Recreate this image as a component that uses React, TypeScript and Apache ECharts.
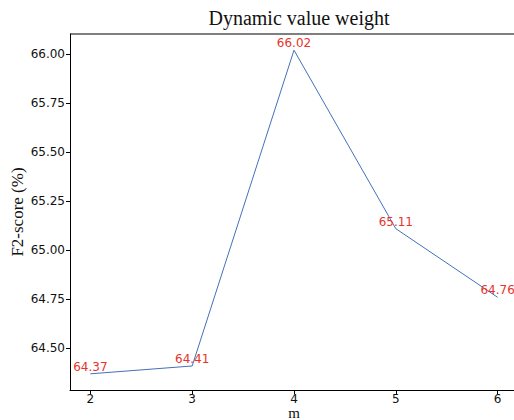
import React, { useEffect, useRef } from "react";
import * as echarts from "echarts";

const mValues = [2, 3, 4, 5, 6];
const f2Scores = [64.37, 64.41, 66.02, 65.11, 64.76];
const xTicks = [2, 3, 4, 5, 6];
const yTicks = [64.5, 64.75, 65.0, 65.25, 65.5, 65.75, 66.0];

export default function App() {
  const ref = useRef<HTMLDivElement>(null);
  useEffect(() => {
    if (!ref.current) return;
    const chart = echarts.init(ref.current, undefined, { renderer: "svg" });
    const sans = "DejaVu Sans";
    const serif = "Liberation Serif";
    chart.setOption({
      animation: false,
      backgroundColor: "#ffffff",
      title: {
        text: "Dynamic value weight",
        left: 294,
        textAlign: "center",
        top: 3,
        textStyle: { fontFamily: serif, fontSize: 20, fontWeight: "normal", color: "#111" },
      },
      grid: {
        left: 70,
        top: 34,
        width: 448,
        height: 356,
        containLabel: false,
        outerBoundsMode: "none",
      },
      xAxis: {
        type: "value",
        min: 1.8,
        max: 6.2,
        name: "m",
        nameLocation: "middle",
        nameGap: 17,
        nameMoveOverlap: false,
        nameTextStyle: { fontFamily: serif, fontSize: 15, color: "#111", lineHeight: 12 },
        axisLine: { show: true, lineStyle: { color: "#000", width: 1 } },
        axisTick: { show: true, customValues: xTicks, length: 4, lineStyle: { color: "#000" } },
        axisLabel: {
          customValues: xTicks,
          fontFamily: sans,
          fontSize: 12,
          lineHeight: 12,
          color: "#111",
          margin: 3,
          formatter: (v: number) => String(v),
        },
        splitLine: { show: false },
      },
      yAxis: {
        type: "value",
        min: 64.2875,
        max: 66.1025,
        name: "F2-score (%)",
        nameLocation: "middle",
        nameGap: 44,
        nameMoveOverlap: false,
        nameRotate: 90,
        nameTextStyle: { fontFamily: serif, fontSize: 17, color: "#111" },
        axisLine: { show: true, lineStyle: { color: "#000", width: 1 } },
        axisTick: { show: true, customValues: yTicks, length: 4, lineStyle: { color: "#000" } },
        axisLabel: {
          customValues: yTicks,
          fontFamily: sans,
          fontSize: 12,
          color: "#111",
          margin: 5,
          formatter: (v: number) => v.toFixed(2),
        },
        splitLine: { show: false },
      },
      series: [
        {
          type: "line",
          data: mValues.map((m, i) => [m, f2Scores[i]]),
          showSymbol: true,
          symbol: "circle",
          symbolSize: 0,
          itemStyle: { color: "#4470b8" },
          lineStyle: { color: "#4470b8", width: 1 },
          label: {
            show: true,
            position: "top",
            distance: 1,
            fontFamily: sans,
            fontSize: 12,
            color: "#e8332b",
            formatter: (p: any) => p.value[1].toFixed(2),
          },
        },
      ],
      graphic: [
        {
          type: "line",
          shape: { x1: 70, y1: 34, x2: 518, y2: 34 },
          style: { stroke: "#000", lineWidth: 1 },
        },
      ],
    });
    return () => chart.dispose();
  }, []);
  return <div ref={ref} style={{ width: 514, height: 420, position: "absolute", left: 0, top: 0 }} />;
}
